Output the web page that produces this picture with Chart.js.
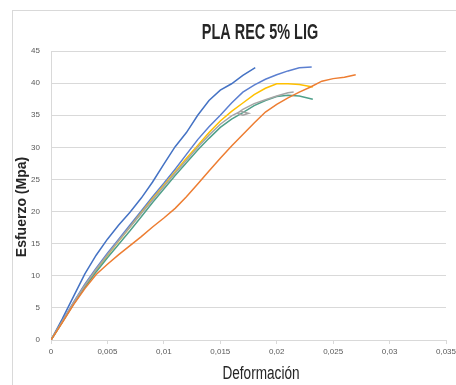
<!DOCTYPE html>
<html>
<head>
<meta charset="utf-8">
<script src="https://cdn.jsdelivr.net/npm/chart.js@4"></script>
<style>
  html, body { margin: 0; padding: 0; background: #fff; }
  #myChart { display: block; }
</style>
</head>
<body>
<canvas id="myChart" width="456" height="385"></canvas>
<script>
// valores (deformacion, esfuerzo)
const xTicks = [0, 0.005, 0.01, 0.015, 0.02, 0.025, 0.03, 0.035];
const yTicks = [0, 5, 10, 15, 20, 25, 30, 35, 40, 45];

const probeta1 = [[0,0],[0.001,3.3],[0.002,6.8],[0.003,10.3],[0.004,13.2],[0.005,15.7],[0.006,17.9],[0.007,19.9],[0.008,22.1],[0.009,24.6],[0.010,27.4],[0.011,30.1],[0.012,32.3],[0.013,35],[0.014,37.3],[0.015,38.9],[0.016,39.9],[0.017,41.2],[0.0181,42.4]];
const probeta2 = [[0,0],[0.001,2.7],[0.002,5.5],[0.003,8],[0.004,10.2],[0.005,11.8],[0.006,13.3],[0.007,14.7],[0.008,16.1],[0.009,17.6],[0.010,19.0],[0.011,20.5],[0.012,22.3],[0.013,24.3],[0.014,26.3],[0.015,28.3],[0.016,30.2],[0.017,32.0],[0.018,33.8],[0.019,35.5],[0.020,36.7],[0.021,37.7],[0.022,38.6],[0.023,39.4],[0.024,40.3],[0.025,40.7],[0.026,40.9],[0.027,41.3]];
const probeta3 = [[0,0],[0.001,2.9],[0.002,5.8],[0.003,8.5],[0.004,11],[0.005,13.3],[0.006,15.5],[0.007,17.6],[0.008,19.7],[0.009,21.8],[0.010,23.9],[0.011,26],[0.012,28],[0.013,30],[0.014,31.9],[0.015,33.6],[0.016,34.9],[0.0168,35.6],[0.0175,35.3],[0.017,35.0],[0.0165,35.3],[0.017,35.9],[0.018,36.8],[0.019,37.4],[0.020,38.0],[0.021,38.5],[0.0215,38.6]];
const probeta4 = [[0,0],[0.001,2.8],[0.002,5.7],[0.003,8.4],[0.004,10.9],[0.005,13.2],[0.006,15.4],[0.007,17.6],[0.008,19.8],[0.009,22],[0.010,24.1],[0.011,26.2],[0.012,28.3],[0.013,30.3],[0.014,32.3],[0.015,34.1],[0.016,35.6],[0.017,36.9],[0.018,38.2],[0.019,39.2],[0.020,39.9],[0.021,39.9],[0.022,39.8],[0.0232,39.4]];
const probeta5 = [[0,0],[0.001,2.9],[0.002,5.9],[0.003,8.7],[0.004,11.2],[0.005,13.5],[0.006,15.7],[0.007,17.9],[0.008,20.1],[0.009,22.3],[0.010,24.4],[0.011,26.6],[0.012,28.9],[0.013,31.2],[0.014,33.2],[0.015,35],[0.016,36.9],[0.017,38.6],[0.018,39.7],[0.019,40.6],[0.020,41.3],[0.021,41.9],[0.022,42.4],[0.0231,42.5]];
const probeta6 = [[0,0],[0.001,2.8],[0.002,5.6],[0.003,8.2],[0.004,10.6],[0.005,12.8],[0.006,14.9],[0.007,17.0],[0.008,19.2],[0.009,21.4],[0.010,23.5],[0.011,25.6],[0.012,27.6],[0.013,29.6],[0.014,31.4],[0.015,33.1],[0.016,34.4],[0.017,35.4],[0.018,36.5],[0.019,37.3],[0.020,37.9],[0.021,38.1],[0.022,38.0],[0.0232,37.5]];

const series = [
  { data: probeta2, color: '#ED7D31' },
  { data: probeta3, color: '#A5A5A5' },
  { data: probeta6, color: '#4FA08A' },
  { data: probeta4, color: '#FFC000' },
  { data: probeta5, color: '#5B7FD0' },
  { data: probeta1, color: '#4472C4' }
];

const fmt = v => String(Math.round(v * 1000) / 1000).replace('.', ',');

// texto estrecho (no hay Calibri / Arial Narrow)
function narrowText(c, text, x, y, sx, sy) {
  c.save();
  c.translate(x, y);
  c.scale(sx, sy);
  c.fillText(text, 0, 0);
  c.restore();
}

const frameAndTitles = {
  id: 'frameAndTitles',
  beforeDraw(chart) {
    const c = chart.ctx;
    c.save();
    c.fillStyle = '#fff';
    c.fillRect(0, 0, chart.width, chart.height);
    c.strokeStyle = '#D9D9D9';
    c.lineWidth = 1;
    c.strokeRect(12.5, 10.5, 600, 500);
    c.restore();
  },
  afterDraw(chart) {
    const c = chart.ctx;
    c.save();
    c.fillStyle = '#262626';
    c.textAlign = 'center';
    c.textBaseline = 'middle';
    c.font = 'bold 19px "Liberation Sans", Arial, sans-serif';
    narrowText(c, 'PLA REC 5% LIG', 260, 33, 0.76, 1.15);
    c.font = '17px "Liberation Sans", Arial, sans-serif';
    narrowText(c, 'Deformación', 261, 374, 0.8, 1.05);
    c.translate(22, 207);
    c.rotate(-Math.PI / 2);
    c.font = 'bold 14px "Liberation Sans", Arial, sans-serif';
    c.fillText('Esfuerzo (Mpa)', 0, 0);
    c.restore();
  }
};

const ctx = document.getElementById('myChart').getContext('2d');
const myChart = new Chart(ctx, {
  type: 'scatter',
  data: {
    datasets: series.map(s => ({
      data: s.data.map(p => ({ x: p[0], y: p[1] })),
      borderColor: s.color,
      backgroundColor: s.color,
      borderWidth: 1.5,
      showLine: true,
      pointRadius: 0,
      tension: 0
    }))
  },
  options: {
    responsive: false,
    animation: false,
    layout: { padding: { left: 12, top: 51, right: 0, bottom: 0 } },
    plugins: {
      legend: { display: false },
      tooltip: { enabled: false }
    },
    scales: {
      x: {
        type: 'linear',
        min: xTicks[0],
        max: xTicks[xTicks.length - 1],
        afterBuildTicks: axis => { axis.ticks = xTicks.map(v => ({ value: v })); },
        afterFit: axis => { axis.height = 45; axis.paddingRight = 10; },
        grid: { drawOnChartArea: false, drawTicks: true, tickLength: 4, color: '#D9D9D9' },
        border: { color: '#D9D9D9' },
        ticks: {
          padding: 3,
          maxRotation: 0,
          color: '#595959',
          font: { size: 8, family: '"Liberation Sans", Arial, sans-serif' },
          callback: v => fmt(v)
        }
      },
      y: {
        min: yTicks[0],
        max: yTicks[yTicks.length - 1],
        afterBuildTicks: axis => { axis.ticks = yTicks.map(v => ({ value: v })); },
        afterFit: axis => { axis.width = 39; },
        grid: { color: '#D9D9D9', drawTicks: false },
        border: { color: '#D9D9D9' },
        ticks: {
          padding: 11,
          color: '#595959',
          font: { size: 8, family: '"Liberation Sans", Arial, sans-serif' }
        }
      }
    }
  },
  plugins: [frameAndTitles]
});
</script>
</body>
</html>
